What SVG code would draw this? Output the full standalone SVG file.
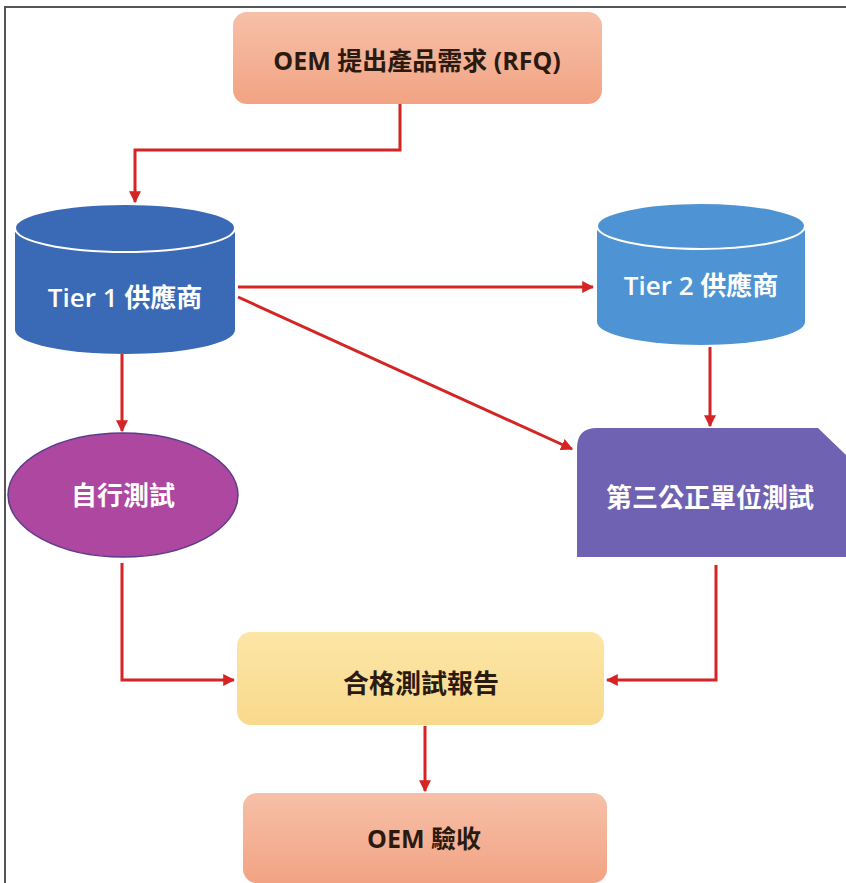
<svg xmlns="http://www.w3.org/2000/svg" width="846" height="883" viewBox="0 0 846 883">
<defs>
<linearGradient id="salmon" x1="0" y1="0" x2="0" y2="1"><stop offset="0" stop-color="#F6C0A8"/><stop offset="1" stop-color="#F2A383"/></linearGradient>
<linearGradient id="yellow" x1="0" y1="0" x2="0" y2="1"><stop offset="0" stop-color="#FCE6A6"/><stop offset="1" stop-color="#F9D98C"/></linearGradient>
<marker id="ah" viewBox="0 0 10 10" refX="9" refY="5" markerWidth="4" markerHeight="4" orient="auto" markerUnits="strokeWidth"><path d="M0,0 L10,5 L0,10 Z" fill="#D42424"/></marker>
<style>
.conn{fill:none;stroke:#D42424;stroke-width:3;marker-end:url(#ah)}
.dark{font-family:"Open Sans","Noto Sans CJK TC",sans-serif;font-weight:bold;fill:#2a1a10;text-anchor:middle;dominant-baseline:central}
.light{font-family:"Open Sans","Noto Sans CJK TC",sans-serif;font-weight:600;fill:#ffffff;text-anchor:middle;dominant-baseline:central}
</style>
</defs>
<rect x="0" y="0" width="846" height="883" fill="#ffffff"/>
<rect x="5" y="7" width="860" height="900" fill="none" stroke="#555555" stroke-width="2"/>

<g id="oem-rfq">
<rect x="233" y="12" width="369" height="92" rx="14" fill="url(#salmon)"/>
<text class="dark" x="417" y="60" font-size="25">OEM 提出產品需求 (RFQ)</text>
</g>

<g id="tier1">
<path d="M15,228 A110,24 0 0 1 235,228 L235,330 A110,24 0 0 1 15,330 Z" fill="#3A69B6"/>
<ellipse cx="125" cy="228" rx="110" ry="24" fill="#3A69B6" stroke="#ffffff" stroke-width="2"/>
<text class="light" x="125" y="297" font-size="26">Tier 1 供應商</text>
</g>

<g id="tier2">
<path d="M597,226 A104,23 0 0 1 805,226 L805,322 A104,23 0 0 1 597,322 Z" fill="#4E93D3"/>
<ellipse cx="701" cy="226" rx="104" ry="23" fill="#4E93D3" stroke="#ffffff" stroke-width="2"/>
<text class="light" x="701" y="285" font-size="26">Tier 2 供應商</text>
</g>

<g id="self-test">
<ellipse cx="123" cy="495" rx="115" ry="62" fill="#AE479F" stroke="#5B3C8C" stroke-width="1.5"/>
<text class="light" x="123" y="495" font-size="26" fill="#FBE4F2">自行測試</text>
</g>

<g id="third-party">
<path d="M597,428 L818,428 L846,455 L846,557 L577,557 L577,448 Q577,428 597,428 Z" fill="#7062B2"/>
<text class="light" x="710" y="497" font-size="26">第三公正單位測試</text>
</g>

<g id="report">
<rect x="237" y="632" width="367" height="93" rx="14" fill="url(#yellow)"/>
<text class="dark" x="421" y="683" font-size="26">合格測試報告</text>
</g>

<g id="oem-accept">
<rect x="243" y="793" width="364" height="90" rx="14" fill="url(#salmon)"/>
<text class="dark" x="424" y="838" font-size="25">OEM 驗收</text>
</g>

<g id="connectors">
<path class="conn" d="M400,104 L400,150 L135,150 L135,202"/>
<path class="conn" d="M238,287 L593,287"/>
<path class="conn" d="M238,297 L572,449"/>
<path class="conn" d="M122,354 L122,431"/>
<path class="conn" d="M710,347 L710,426"/>
<path class="conn" d="M122,563 L122,680 L234,680"/>
<path class="conn" d="M716,565 L716,680 L607,680"/>
<path class="conn" d="M425,726 L425,791"/>
</g>
</svg>
